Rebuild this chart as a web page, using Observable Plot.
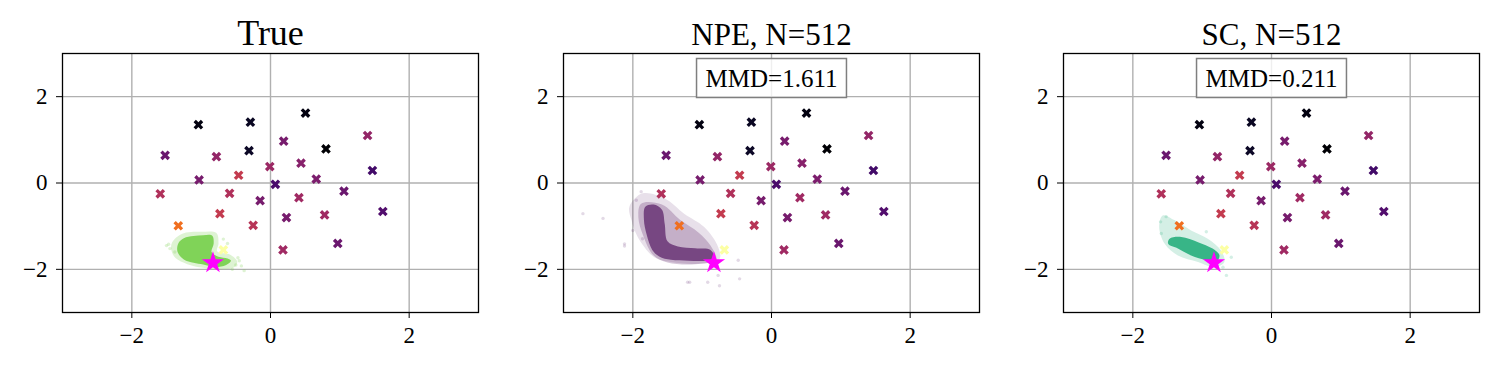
<!DOCTYPE html>
<html>
<head>
<meta charset="utf-8">
<script src="https://cdn.jsdelivr.net/npm/d3@7"></script>
<script src="https://cdn.jsdelivr.net/npm/@observablehq/plot@0.6"></script>
<style>
  body { margin: 0; background: #fff; }
  #wrap { position: relative; width: 1495px; height: 365px; overflow: hidden; }
  #wrap svg { position: absolute; top: 0; }
</style>
</head>
<body>
<div id="wrap"></div>
<script>
// ---- data ----
const panelTitles = ["True", "NPE, N=512", "SC, N=512"];
const mmdLabels = [null, "MMD=1.611", "MMD=0.211"];
const tickValues = [-2, 0, 2];

// x-shaped markers (identical in all panels) and their colour value (inferno)
const markerX = [-1.04, -0.29, 0.505, -0.31, 0.80, 1.40, 0.19, -1.52, -0.78, -0.01, 0.44, 1.47, -1.03, -0.46, 0.66, 0.07, -1.59, -0.59, -0.15, 1.06, 0.41, 1.62, -0.73, 0.23, 0.78, -1.33, -0.25, 0.97, 0.18, -0.68];
const markerY = [1.35, 1.41, 1.62, 0.75, 0.79, 1.10, 0.97, 0.64, 0.61, 0.38, 0.46, 0.29, 0.07, 0.18, 0.09, -0.03, -0.25, -0.24, -0.41, -0.19, -0.34, -0.66, -0.71, -0.80, -0.74, -0.99, -0.98, -1.40, -1.55, -1.55];
const markerT = [0.03, 0.06, 0.03, 0.07, 0.0, 0.40, 0.33, 0.30, 0.40, 0.42, 0.37, 0.20, 0.33, 0.52, 0.34, 0.22, 0.47, 0.47, 0.33, 0.30, 0.43, 0.24, 0.52, 0.33, 0.43, 0.68, 0.49, 0.30, 0.43, 1.0];

// star
const starX = [-0.83];
const starY = [-1.85];

// True posterior cloud
const trueCoreX = [-1.33, -1.25, -1.11, -0.97, -0.84, -0.82, -0.85, -0.75, -0.62, -0.57, -0.64, -0.80, -0.97, -1.11, -1.25, -1.34];
const trueCoreY = [-1.40, -1.28, -1.23, -1.21, -1.22, -1.41, -1.60, -1.71, -1.75, -1.80, -1.90, -1.95, -1.89, -1.85, -1.77, -1.60];
const trueHaloX = [-1.42, -1.28, -1.00, -0.78, -0.75, -0.77, -0.58, -0.48, -0.53, -0.80, -1.00, -1.20, -1.37, -1.43];
const trueHaloY = [-1.38, -1.18, -1.13, -1.16, -1.40, -1.58, -1.66, -1.82, -1.96, -2.00, -1.96, -1.88, -1.74, -1.55];
const trueOutX = [-1.50, -1.45, -1.38, -0.62, -0.45, -0.42, -0.50, -0.55, -0.38, -0.68, -1.47, -0.47];
const trueOutY = [-1.45, -1.52, -1.60, -1.40, -1.80, -1.92, -1.90, -2.00, -2.03, -1.30, -1.42, -1.73];

// NPE posterior cloud
const npeCoreX = [-1.82, -1.70, -1.58, -1.54, -1.50, -1.35, -1.10, -0.88, -0.82, -0.95, -1.20, -1.45, -1.62, -1.72, -1.80, -1.84];
const npeCoreY = [-0.55, -0.50, -0.62, -0.95, -1.35, -1.47, -1.51, -1.55, -1.74, -1.80, -1.80, -1.78, -1.70, -1.55, -1.20, -0.85];
const npeMidX = [-1.88, -1.58, -1.32, -1.05, -0.88, -0.80, -1.10, -1.50, -1.70, -1.85, -1.92];
const npeMidY = [-0.48, -0.50, -0.85, -1.15, -1.45, -1.78, -1.88, -1.84, -1.68, -1.22, -0.80];
const npeHaloX = [-2.05, -1.86, -1.54, -1.26, -0.97, -0.77, -0.75, -1.06, -1.45, -1.69, -1.93, -2.02];
const npeHaloY = [-0.55, -0.24, -0.36, -0.71, -1.02, -1.48, -1.76, -1.87, -1.83, -1.72, -1.25, -0.86];
const npeOutX = [-2.72, -2.43, -2.12, -2.12, -1.21, -0.92, -0.77, -0.46, -0.48, -1.86, -1.88, -1.18, -0.75, -2.00, -1.95];
const npeOutY = [-0.71, -0.82, -1.41, -1.46, -2.30, -2.30, -2.14, -2.22, -1.79, -1.29, -0.20, -2.30, -2.38, -1.10, -0.40];

// SC posterior cloud
const scCoreX = [-1.47, -1.30, -1.06, -0.85, -0.75, -0.80, -0.94, -1.16, -1.35, -1.49];
const scCoreY = [-1.29, -1.25, -1.37, -1.52, -1.68, -1.83, -1.79, -1.68, -1.52, -1.41];
const scHaloX = [-1.57, -1.40, -1.16, -0.92, -0.73, -0.68, -0.82, -1.06, -1.35, -1.54, -1.62];
const scHaloY = [-0.75, -0.86, -1.10, -1.29, -1.56, -1.83, -1.95, -1.83, -1.68, -1.41, -1.02];
const scOutX = [-1.59, -0.58, -0.65, -0.94, -1.60, -1.52, -0.70];
const scOutY = [-1.17, -1.72, -2.14, -1.13, -0.90, -0.78, -1.95];

const cloudColors = ["#7ad151", "#440154", "#2ab07f"];

// ---- helpers ----
const zip = (xs, ys, extra) => xs.map((x, i) => ({x, y: ys[i], ...(extra ? {t: extra[i]} : {})}));
const markers = zip(markerX, markerY, markerT);
const star = zip(starX, starY);
const clouds = [
  {core: zip(trueCoreX, trueCoreY), mid: null, halo: zip(trueHaloX, trueHaloY), out: zip(trueOutX, trueOutY), coreOp: 0.95, haloOp: 0.25, outOp: 0.25},
  {core: zip(npeCoreX, npeCoreY), mid: zip(npeMidX, npeMidY), halo: zip(npeHaloX, npeHaloY), out: zip(npeOutX, npeOutY), coreOp: 0.6, haloOp: 0.12, outOp: 0.15},
  {core: zip(scCoreX, scCoreY), mid: null, halo: zip(scHaloX, scHaloY), out: zip(scOutX, scOutY), coreOp: 0.92, haloOp: 0.2, outOp: 0.2}
];

// filled "X" marker (like matplotlib's "X")
const xSymbol = {
  draw(ctx, size) {
    const r = Math.sqrt(size / Math.PI), a = r * 0.32, c = Math.SQRT1_2;
    const pts = [[a, r], [a, a], [r, a], [r, -a], [a, -a], [a, -r], [-a, -r], [-a, -a], [-r, -a], [-r, a], [-a, a], [-a, r]];
    pts.forEach(([x, y], i) => {
      const X = (x - y) * c, Y = (x + y) * c;
      i ? ctx.lineTo(X, Y) : ctx.moveTo(X, Y);
    });
    ctx.closePath();
  }
};

const fmt = d => (d < 0 ? "\u2212" + Math.abs(d) : String(d));
const font = "'Liberation Serif', 'DejaVu Serif', serif";
const lefts = [0, 501, 1001];
const wrap = document.getElementById("wrap");

panelTitles.forEach((title, k) => {
  const cl = clouds[k];
  const marks = [
    Plot.ruleX(tickValues, {stroke: "#b0b0b0", strokeWidth: 1.4}),
    Plot.ruleY(tickValues, {stroke: "#b0b0b0", strokeWidth: 1.4}),
    Plot.line(cl.halo, {x: "x", y: "y", curve: "catmull-rom-closed", fill: cloudColors[k], fillOpacity: cl.haloOp, stroke: "none"})
  ];
  if (cl.mid) marks.push(Plot.line(cl.mid, {x: "x", y: "y", curve: "catmull-rom-closed", fill: cloudColors[k], fillOpacity: 0.22, stroke: "none"}));
  marks.push(
    Plot.line(cl.core, {x: "x", y: "y", curve: "catmull-rom-closed", fill: cloudColors[k], fillOpacity: cl.coreOp, stroke: "none"}),
    Plot.dot(cl.out, {x: "x", y: "y", r: 1.7, fill: cloudColors[k], fillOpacity: cl.outOp, stroke: "none"}),
    Plot.dot(markers, {x: "x", y: "y", fill: "t", symbol: xSymbol, r: 5.2, stroke: "none"}),
    Plot.dot(star, {x: "x", y: "y", symbol: "star", r: 7, fill: "#ff00ff", stroke: "none"}),
    Plot.frame({stroke: "black", strokeWidth: 1.3}),
    Plot.text([title], {text: d => d, frameAnchor: "top", lineAnchor: "bottom", dy: -9, fontSize: k === 0 ? 36 : 31, fill: "black"})
  );
  if (mmdLabels[k]) {
    marks.push(Plot.text([mmdLabels[k]], {text: d => d, frameAnchor: "top", lineAnchor: "middle", dy: 25, fontSize: 25, fill: "black"}));
  }
  const svg = Plot.plot({
    width: 494,
    height: 365,
    marginLeft: 62,
    marginRight: 16,
    marginTop: 53,
    marginBottom: 53,
    style: {fontFamily: font, fontSize: "23px", color: "black", background: "transparent"},
    x: {domain: [-3, 3], ticks: tickValues, tickFormat: fmt, tickSize: 6, tickPadding: 8, label: null},
    y: {domain: [-3, 3], ticks: tickValues, tickFormat: fmt, tickSize: 6, tickPadding: 9, label: null},
    color: {type: "linear", scheme: "inferno", domain: [0, 1]},
    marks
  });
  svg.style.left = lefts[k] + "px";
  wrap.appendChild(svg);
  // draw the box behind the MMD annotation
  svg.querySelectorAll("text").forEach(t => {
    if (t.textContent.startsWith("MMD")) {
      const b = t.getBBox();
      const rect = document.createElementNS("http://www.w3.org/2000/svg", "rect");
      const padX = 9;
      const cy = b.y + b.height / 2;
      rect.setAttribute("x", b.x - padX);
      rect.setAttribute("y", cy - 19.5);
      rect.setAttribute("width", b.width + 2 * padX);
      rect.setAttribute("height", 39);
      rect.setAttribute("fill", "white");
      rect.setAttribute("fill-opacity", "0.8");
      rect.setAttribute("stroke", "#7f7f7f");
      rect.setAttribute("stroke-width", "1.5");
      const tr = t.getAttribute("transform");
      if (tr) rect.setAttribute("transform", tr);
      t.parentNode.insertBefore(rect, t);
    }
  });
});
</script>
</body>
</html>
